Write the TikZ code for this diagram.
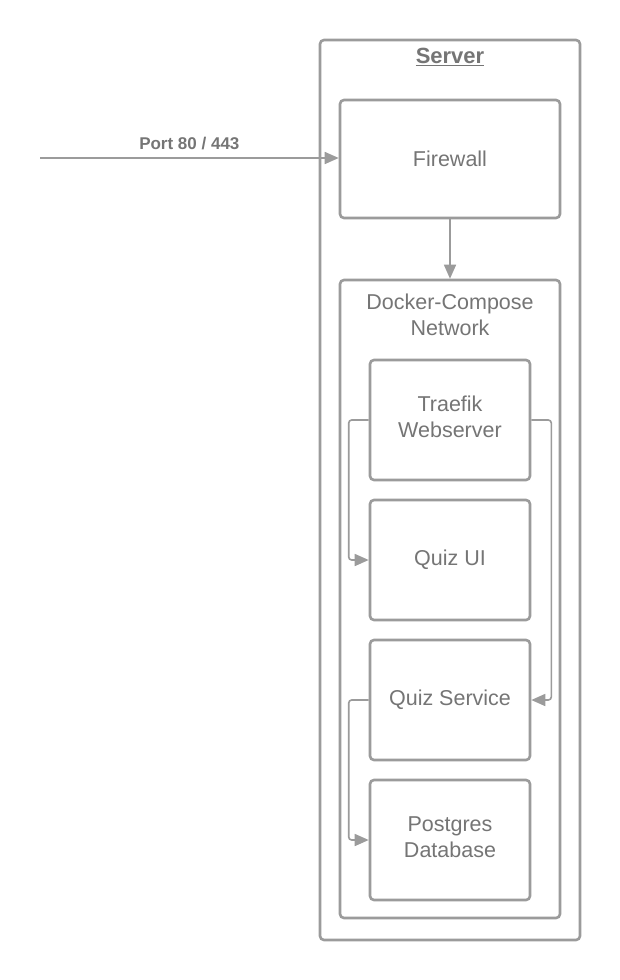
\documentclass[tikz,border=0pt]{standalone}
\usepackage{fontspec}
\setmainfont{Liberation Sans}
\usetikzlibrary{arrows.meta}
\definecolor{boxline}{HTML}{9B9B9B}
\definecolor{txt}{HTML}{757575}
\tikzset{
  box/.style={draw=boxline, line width=2.6pt, rounded corners=4pt, fill=white,
    text=txt, align=center, inner sep=0pt, font=\fontsize{21.5}{26}\selectfont},
  boxtext/.style={text=txt, align=center, inner sep=0pt, font=\fontsize{21.5}{26}\selectfont},
  conn/.style={draw=boxline, line width=1.6pt, rounded corners=3pt,
    -{Triangle[length=14pt,width=12pt]}},
}
\begin{document}
\begin{tikzpicture}[x=1pt,y=-1pt]
\useasboundingbox (0,0) rectangle (620,980);
\node[box, minimum width=260pt, minimum height=900pt] (server) at (450,490) {};
\node[text=txt, font=\fontsize{22}{26}\selectfont\bfseries] (serverlbl) at (450,57) {\underline{Server}};
\node[box, minimum width=220pt, minimum height=118pt] (fw) at (450,159) {Firewall};
\node[box, minimum width=220pt, minimum height=638pt] (dc) at (450,599) {};
\node[boxtext] (dclbl) at (450,315) {Docker-Compose\\Network};
\node[box, minimum width=160pt, minimum height=120pt] (tr) at (450,420) {};
\node[boxtext] (trlbl) at (450,417) {Traefik\\Webserver};
\node[box, minimum width=160pt, minimum height=120pt] (ui) at (450,560) {Quiz UI};
\node[box, minimum width=160pt, minimum height=120pt] (qs) at (450,700) {Quiz Service};
\node[box, minimum width=160pt, minimum height=120pt] (db) at (450,840) {};
\node[boxtext] (dblbl) at (450,837) {Postgres\\Database};
\coordinate (in) at (40,158);
\draw[conn, rounded corners=0pt] (in) -- (fw.west |- in) node[midway, above=4pt, text=txt, font=\fontsize{17}{20}\selectfont\bfseries] (portlbl) {Port 80 / 443};
\draw[conn] (fw.south) -- (dc.north);
\draw[conn] (tr.west) -- ++(-20,0) |- (ui.west);
\draw[conn] (tr.east) -- ++(20,0) |- (qs.east);
\draw[conn] (qs.west) -- ++(-20,0) |- (db.west);
\end{tikzpicture}
\end{document}
